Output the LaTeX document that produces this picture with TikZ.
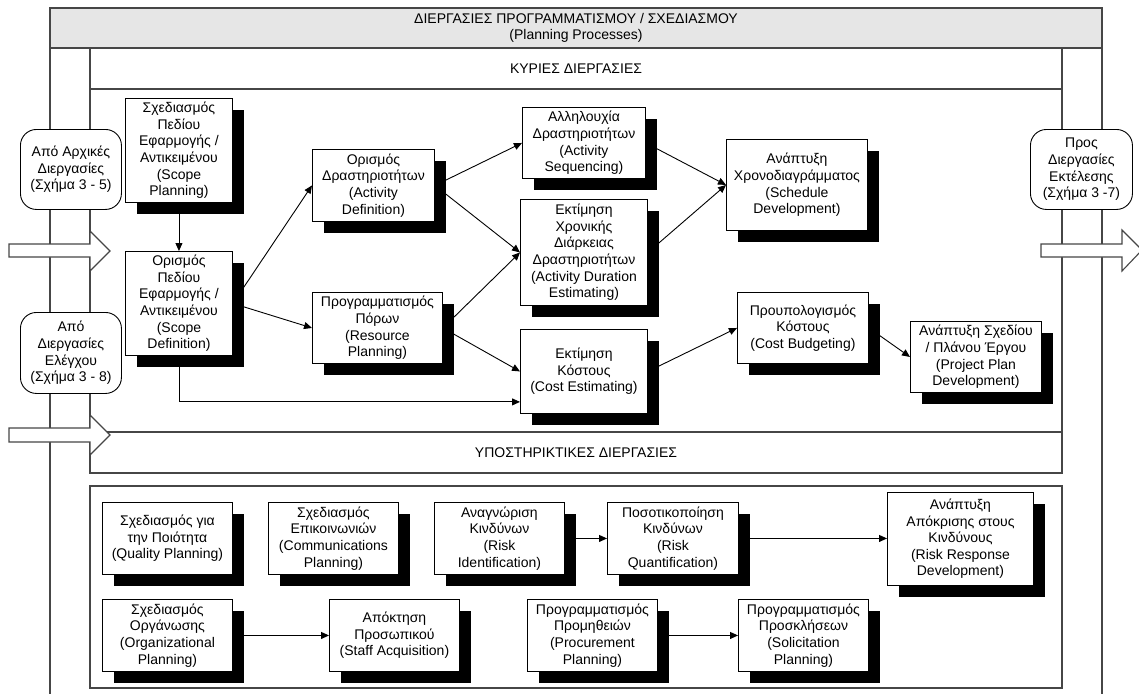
\documentclass[tikz,border=0pt]{standalone}
\usepackage{fontspec}
\setmainfont{Liberation Sans}
\usetikzlibrary{arrows.meta,shadows,calc}
\definecolor{headgray}{RGB}{230,230,230}
\definecolor{framecol}{RGB}{70,70,70}
\begin{document}
\begin{tikzpicture}[x=1pt,y=-1pt,
  every node/.style={font=\fontsize{14}{16.6}\selectfont},
  frame/.style={draw=framecol, line width=1.1pt},
  proc/.style={draw=black, line width=0.9pt, fill=white, align=center,
    inner sep=0pt, anchor=north west,
    general shadow={fill=black, draw=none, shadow xshift=12pt, shadow yshift=-12pt}},
  ext/.style={draw=black, line width=0.9pt, fill=white, rounded corners=16pt,
    align=center, inner sep=0pt, anchor=north west},
  link/.style={draw=black, line width=0.9pt, -{Triangle[length=8pt,width=7pt]}},
  blockarrow/.style={draw=framecol, line width=1.1pt, fill=white},
  caption/.style={align=center, inner sep=0pt}
]
\useasboundingbox (0,0) rectangle (1139,694);

% swim-lane frames
\draw[frame, fill=headgray] (50,8) rectangle (1102,48);
\draw[frame] (50,48) -- (50,694);
\draw[frame] (1102,48) -- (1102,694);
\draw[frame] (90,48) rectangle (1062,432);
\draw[frame] (90,89) -- (1062,89);
\draw[frame] (90,432) -- (90,473) -- (1062,473) -- (1062,432);
\draw[frame] (90,486) rectangle (1062,688);

\node[caption] (title) at (576,28) {ΔΙΕΡΓΑΣΙΕΣ ΠΡΟΓΡΑΜΜΑΤΙΣΜΟΥ / ΣΧΕΔΙΑΣΜΟΥ\\(Planning Processes)};
\node[caption] (core) at (576,69) {ΚΥΡΙΕΣ ΔΙΕΡΓΑΣΙΕΣ};
\node[caption] (support) at (576,453) {ΥΠΟΣΤΗΡΙΚΤΙΚΕΣ ΔΙΕΡΓΑΣΙΕΣ};

% block arrows crossing the lanes
\draw[blockarrow] (9,244) -- (90,244) -- (90,231) -- (110,251) -- (90,271) -- (90,257) -- (9,257) -- cycle;
\draw[blockarrow] (9,428) -- (90,428) -- (90,415) -- (110,435) -- (90,455) -- (90,442) -- (9,442) -- cycle;
\draw[blockarrow] (1041,244) -- (1122,244) -- (1122,230) -- (1142,250) -- (1122,271) -- (1122,257) -- (1041,257) -- cycle;

% links to other process groups
\node[ext, minimum width=101pt, minimum height=80pt] (fromInit) at (20,129) {Από Αρχικές\\Διεργασίες\\(Σχήμα 3 - 5)};
\node[ext, minimum width=101pt, minimum height=81pt] (fromCtrl) at (20,312) {Από\\Διεργασίες\\Ελέγχου\\(Σχήμα 3 - 8)};
\node[ext, minimum width=102pt, minimum height=80pt] (toExec) at (1030,129) {Προς\\Διεργασίες\\Εκτέλεσης\\(Σχήμα 3 -7)};

% core processes
\node[proc, minimum width=107pt, minimum height=104pt] (sp) at (125,98) {Σχεδιασμός\\Πεδίου\\Εφαρμογής /\\Αντικειμένου\\(Scope\\Planning)};
\node[proc, minimum width=107pt, minimum height=104pt] (sd) at (125,251) {Ορισμός\\Πεδίου\\Εφαρμογής /\\Αντικειμένου\\(Scope\\Definition)};
\node[proc, minimum width=122pt, minimum height=72pt] (ad) at (312,149) {Ορισμός\\Δραστηριοτήτων\\(Activity\\Definition)};
\node[proc, minimum width=130pt, minimum height=71pt] (rp) at (312,292) {Προγραμματισμός\\Πόρων\\(Resource\\Planning)};
\node[proc, minimum width=123pt, minimum height=71pt] (as) at (522,107) {Αλληλουχία\\Δραστηριοτήτων\\(Activity\\Sequencing)};
\node[proc, minimum width=127pt, minimum height=106pt] (ade) at (520,199) {Εκτίμηση\\Χρονικής\\Διάρκειας\\Δραστηριοτήτων\\(Activity Duration\\Estimating)};
\node[proc, minimum width=127pt, minimum height=84pt] (ce) at (520,329) {Εκτίμηση\\Κόστους\\(Cost Estimating)};
\node[proc, minimum width=141pt, minimum height=91pt] (sdv) at (726,139) {Ανάπτυξη\\Χρονοδιαγράμματος\\(Schedule\\Development)};
\node[proc, minimum width=131pt, minimum height=71pt] (cb) at (737,292) {Προυπολογισμός\\Κόστους\\(Cost Budgeting)};
\node[proc, minimum width=131pt, minimum height=71pt] (ppd) at (910,321) {Ανάπτυξη Σχεδίου\\/ Πλάνου Έργου\\(Project Plan\\Development)};

% supporting processes
\node[proc, minimum width=130pt, minimum height=72pt] (qp) at (102,502) {Σχεδιασμός για\\την Ποιότητα\\(Quality Planning)};
\node[proc, minimum width=130pt, minimum height=72pt] (cp) at (268,502) {Σχεδιασμός\\Επικοινωνιών\\(Communications\\Planning)};
\node[proc, minimum width=130pt, minimum height=72pt] (ri) at (434,502) {Αναγνώριση\\Κινδύνων\\(Risk\\Identification)};
\node[proc, minimum width=131pt, minimum height=72pt] (rq) at (607,502) {Ποσοτικοποίηση\\Κινδύνων\\(Risk\\Quantification)};
\node[proc, minimum width=146pt, minimum height=93pt] (rrd) at (887,492) {Ανάπτυξη\\Απόκρισης στους\\Κινδύνους\\(Risk Response\\Development)};
\node[proc, minimum width=130pt, minimum height=72pt] (op) at (102,599) {Σχεδιασμός\\Οργάνωσης\\(Organizational\\Planning)};
\node[proc, minimum width=130pt, minimum height=72pt] (sa) at (329,599) {Απόκτηση\\Προσωπικού\\(Staff Acquisition)};
\node[proc, minimum width=130pt, minimum height=72pt] (pp) at (527,599) {Προγραμματισμός\\Προμηθειών\\(Procurement\\Planning)};
\node[proc, minimum width=130pt, minimum height=72pt] (sol) at (738,599) {Προγραμματισμός\\Προσκλήσεων\\(Solicitation\\Planning)};

% connectors
\draw[link] (sp) -- (sd);
\draw[link] (sd.east) -- (ad.west);
\draw[link] (sd.east) -- (rp.west);
\draw[link] (sd.south) |- ([yshift=12pt]ce.south west);
\draw[link] (ad.east) -- (as.west);
\draw[link] (ad.east) -- (ade.west);
\draw[link] (rp.east) -- (ade.west);
\draw[link] (rp.east) -- (ce.west);
\draw[link] (as.east) -- (sdv.west);
\draw[link] (ade.east) -- (sdv.west);
\draw[link] (ce.east) -- (cb.west);
\draw[link] (cb.east) -- (ppd.west);
\draw[link] (ri) -- (rq);
\draw[link] (rq.east) -- (rq.east -| rrd.west);
\draw[link] (op) -- (sa);
\draw[link] (pp) -- (sol);
\end{tikzpicture}
\end{document}
